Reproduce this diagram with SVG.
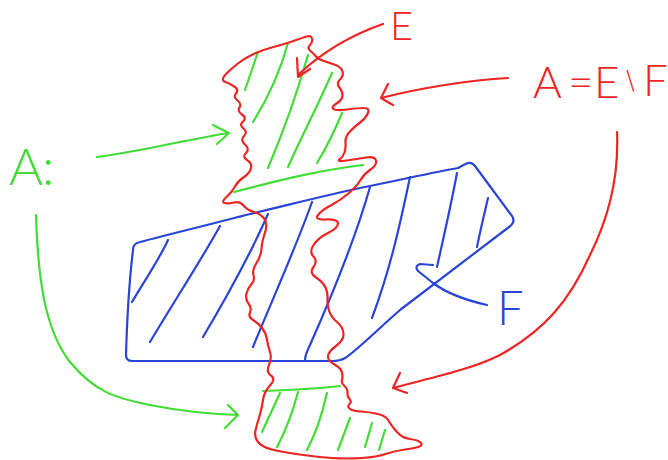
<svg xmlns="http://www.w3.org/2000/svg" width="668" height="460" viewBox="0 0 668 460">
<style>
.r{fill:none;stroke:#ec2424;stroke-width:2.2;stroke-linecap:round;stroke-linejoin:round}
.g{fill:none;stroke:#42dc36;stroke-width:2.2;stroke-linecap:round;stroke-linejoin:round}
.b{fill:none;stroke:#2a44d8;stroke-width:2.2;stroke-linecap:round;stroke-linejoin:round}
.t{font-family:Lato,"DejaVu Sans",sans-serif;font-weight:300}
</style>
<rect width="668" height="460" fill="#ffffff"/>
<g id="F">
<path class="b" d="M133,250 C133,245 135,243 140,242 C170,234 220,222 250,214 C300,202 340,192 360,188 C400,180 435,172 458,168 Q463,165 468,163 Q472,162 475,166 L512,216 Q516,222 509,227 L400,310 C375,332 355,352 345,358 Q340,361 332,361 L132,361 Q126,361 126,355 C127,320 130,275 133,250 Z"/>
<path class="b" d="M168,240 C160,258 145,280 132,302 M220,226 C200,262 175,300 150,342 M268,214 C250,255 225,300 203,337 M312,202 C295,250 272,300 253,347 M370,187 C355,240 330,300 310,345 Q305,355 305,360 M410,177 C400,225 390,270 372,318 M457,173 C450,210 443,240 437,267 M488,198 C484,215 480,232 477,247"/>
</g>
<g id="A">
<path class="g" d="M258,52 L245,90 M288,43 C282,65 270,95 253,122 M308,55 C298,90 282,135 268,168 M332,73 C318,105 300,140 288,167 M342,113 C335,130 325,150 317,163 M234,192 C280,180 320,170 363,165"/>
<path class="g" d="M263,391 C290,390 315,389 340,386 M280,393 L262,432 M298,392 C292,415 285,432 277,447 M327,393 C322,415 315,435 307,450 M350,418 L338,450 M372,423 L365,447 M385,430 L379,450"/>
</g>
<g id="E">
<path class="r" d="M225.5,82 Q220,80 226,74 Q232,68 238.5,63 Q245,58 253.5,54 Q262,50 273.5,47 Q285,44 293.5,41 Q302,38 306.5,36.5 Q311,35 312,38.5 Q313,42 310,45 Q307,48 310,50.5 Q313,53 315.5,56 Q318,59 324,61 Q330,63 335.5,65 Q341,67 342.5,71.5 Q344,76 340,79.5 Q336,83 339.5,87.5 Q343,92 342.5,96 Q342,100 336.5,103.5 Q331,107 333.5,109 Q336,111 347,109.5 Q358,108 364,108 Q370,108 368,113 Q366,118 360,122.5 Q354,127 349.5,132 Q345,137 345.5,142.5 Q346,148 344.5,152.5 Q343,157 339.5,159.5 Q336,162 346.5,160.5 Q357,159 366,157.5 Q375,156 376,160.5 Q377,165 370.5,169.5 Q364,174 360.5,180 Q357,186 349,193 Q341,200 331.5,205 Q322,210 318,215 Q314,220 326,219.5 Q338,219 338,223.5 Q338,228 328,233 Q318,238 313.5,245 Q309,252 313.5,256.5 Q318,261 313.5,267 Q309,273 316,277.5 Q323,282 325.5,287.5 Q328,293 327.5,298.5 Q327,304 329,310.5 Q331,317 337,322 Q343,327 343.5,333.5 Q344,340 336,346 Q328,352 328,356.5 Q328,361 334.5,364.5 Q341,368 342,372.5 Q343,377 342,380 Q341,383 344.5,386 Q348,389 347.5,392.5 Q347,396 349.5,399 Q352,402 349.5,404 Q347,406 349.5,408.5 Q352,411 361,411.5 Q370,412 378,414 Q386,416 388.5,420.5 Q391,425 396.5,431.5 Q402,438 410,439 Q418,440 420.5,442.5 Q423,445 419.5,446.5 Q416,448 405,449.5 Q394,451 385.5,454 Q377,457 362,458 Q347,459 332,458 Q317,457 299.5,454.5 Q282,452 272,449.5 Q262,447 258,442 Q254,437 255.5,430.5 Q257,424 259.5,416 Q262,408 263,400 Q264,392 270,385.5 Q276,379 271,375.5 Q266,372 269,365 Q272,358 270,352 Q268,346 267,339.5 Q266,333 262,328 Q258,323 253,320 Q248,317 250,312.5 Q252,308 248.5,303.5 Q245,299 246.5,293.5 Q248,288 251.5,284 Q255,280 253.5,275 Q252,270 256.5,263 Q261,256 261.5,248.5 Q262,241 265,232.5 Q268,224 264.5,219 Q261,214 254,212 Q247,210 243.5,205.5 Q240,201 234,202.5 Q228,204 224.5,203 Q221,202 226.5,197 Q232,192 235,186.5 Q238,181 244,177 Q250,173 251,168 Q252,163 247,160 Q242,157 246,153 Q250,149 245,144.5 Q240,140 244,136 Q248,132 243.5,128.5 Q239,125 243,121.5 Q247,118 242,114.5 Q237,111 239.5,107.5 Q242,104 237.5,100.5 Q233,97 236,93.5 Q239,90 235,87 Q231,84 225.5,82 Z"/>
</g>
<g id="connectors">
<path class="r" d="M383,24 C360,32 330,45 299,74 M297,58 L298,77 L310,69"/>
<path class="r" d="M508,78 C470,80 420,88 381,98 M388,84 L381,98 L393,105"/>
<path class="r" d="M617,132 C619,175 610,215 590,255 C570,300 545,330 500,355 C470,370 430,378 393,388 M400,373 L393,388 L407,393"/>
<path class="g" d="M97,157 C120,154 140,150 160,146 C185,141 205,137 228,133 M213,125 L229,133 L217,144"/>
<path class="g" d="M36,215 C38,280 45,330 70,362 C95,392 115,398 150,405 C180,411 210,414 238,415 M228,405 L238,415 L225,428"/>
<path class="b" d="M487,305 C465,300 445,292 433,283 L418,271 Q414,266 420,264 L433,265"/>
</g>
<g id="labels">
<text class="t" x="390" y="40" font-size="40" fill="#ec2424">E</text>
<text class="t" y="98" font-size="44" fill="#ec2424"><tspan x="533">A</tspan> <tspan x="568">=</tspan> <tspan x="594">E</tspan> <tspan x="621" y="90" font-size="26">∖</tspan> <tspan x="643" y="96">F</tspan></text>
<text class="t" x="9 42" y="185" font-size="52" fill="#42dc36">A:</text>
<text class="t" x="497" y="325" font-size="47" fill="#2a44d8">F</text>
</g>
</svg>
